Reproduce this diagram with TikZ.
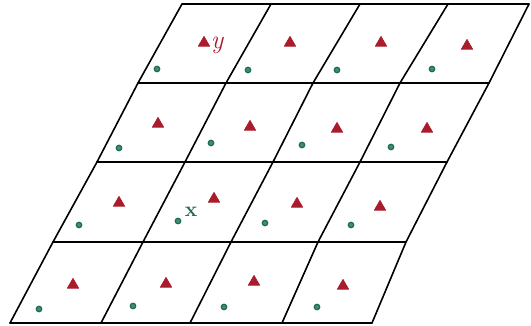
\documentclass[tikz,border=0pt]{standalone}
\usetikzlibrary{shapes.geometric}
\definecolor{trired}{HTML}{A81C2C}
\definecolor{dotgreen}{HTML}{1A6E4E}
\begin{document}
\begin{tikzpicture}[x=1pt,y=-1pt,
  gridline/.style={line width=1.6pt, black, line cap=round, line join=round},
  tri/.style={regular polygon, regular polygon sides=3, fill=trired, draw=trired,
    line width=0.8pt, line join=round, inner sep=0pt, minimum size=13pt},
  dot/.style={circle, fill=dotgreen!80, draw=dotgreen, line width=1.2pt, inner sep=0pt, minimum size=5.5pt},
  lab/.style={inner sep=0pt, anchor=base}
]
\useasboundingbox (0,0) rectangle (531,326);
% grid intersections p<row>-<col>
\foreach \r/\y/\a/\b/\c/\d/\e in {0/4/182/271/360/448/529, 1/83/138/226/313/400/489,
    2/162/97/185/273/360/447, 3/242/53/143/231/318/406, 4/323/10/101/190/282/372}{
  \coordinate (p\r-0) at (\a,\y);
  \coordinate (p\r-1) at (\b,\y);
  \coordinate (p\r-2) at (\c,\y);
  \coordinate (p\r-3) at (\d,\y);
  \coordinate (p\r-4) at (\e,\y);
}
\foreach \r in {0,...,4}{ \draw[gridline] (p\r-0) -- (p\r-4); }
\foreach \c in {0,...,4}{ \draw[gridline] (p0-\c) -- (p1-\c) -- (p2-\c) -- (p3-\c) -- (p4-\c); }
% triangles
\node[tri] (t11) at (204,43) {};
\node[tri] (t12) at (290,43) {};
\node[tri] (t13) at (381,43) {};
\node[tri] (t14) at (467,46) {};
\node[tri] (t21) at (158,124) {};
\node[tri] (t22) at (250,127) {};
\node[tri] (t23) at (337,129) {};
\node[tri] (t24) at (427,129) {};
\node[tri] (t31) at (119,203) {};
\node[tri] (t32) at (214,199) {};
\node[tri] (t33) at (297,204) {};
\node[tri] (t34) at (380,207) {};
\node[tri] (t41) at (73,285) {};
\node[tri] (t42) at (166,284) {};
\node[tri] (t43) at (254,282) {};
\node[tri] (t44) at (343,286) {};
% dots
\node[dot] (d11) at (157,69) {};
\node[dot] (d12) at (248,70) {};
\node[dot] (d13) at (337,70) {};
\node[dot] (d14) at (432,69) {};
\node[dot] (d21) at (119,148) {};
\node[dot] (d22) at (211,143) {};
\node[dot] (d23) at (302,145) {};
\node[dot] (d24) at (391,147) {};
\node[dot] (d31) at (79,225) {};
\node[dot] (d32) at (178,221) {};
\node[dot] (d33) at (265,223) {};
\node[dot] (d34) at (351,225) {};
\node[dot] (d41) at (39,309) {};
\node[dot] (d42) at (133,306) {};
\node[dot] (d43) at (224,307) {};
\node[dot] (d44) at (317,307) {};
% labels
\node[lab, text=trired, font=\fontsize{26}{26}\selectfont\itshape] (ylab) at (217,49) {y};
\node[lab, text=dotgreen, font=\fontsize{21}{21}\selectfont\bfseries] (xlab) at (191,217) {x};
\end{tikzpicture}
\end{document}
